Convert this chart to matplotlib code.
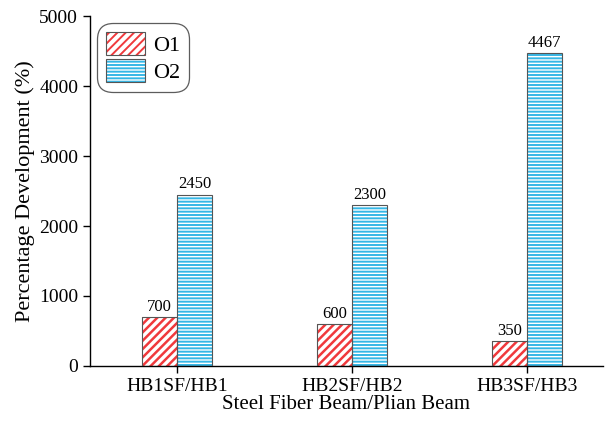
import matplotlib
matplotlib.use("Agg")
import matplotlib.pyplot as plt
from matplotlib.patches import Patch
from matplotlib.legend_handler import HandlerTuple
import numpy as np

categories = ["HB1SF/HB1", "HB2SF/HB2", "HB3SF/HB3"]
o1_values = [700, 600, 350]
o2_values = [2450, 2300, 4467]
series_names = ["O1", "O2"]
y_ticks = [0, 1000, 2000, 3000, 4000, 5000]

plt.rcParams["font.family"] = ["Liberation Serif", "DejaVu Serif"]

fig = plt.figure(figsize=(6.12, 4.25), dpi=100)
ax = fig.add_axes([0.147, 0.139, 0.838, 0.823])

x = np.arange(len(categories))
w = 0.2
red = "#f0393c"
blue = "#35b7e6"
outline = "#555555"
red_hatch = "////"
blue_hatch = "-----"

# hatched fills (per-series hatch line width), then a thin dark outline on top
plt.rcParams["hatch.linewidth"] = 1.8
ax.bar(x - w / 2, o1_values, w, color="white", edgecolor=red, hatch=red_hatch, linewidth=0, zorder=2)
red_fill = Patch(facecolor="white", edgecolor=red, hatch=red_hatch, linewidth=0)
plt.rcParams["hatch.linewidth"] = 1.4
ax.bar(x + w / 2, o2_values, w, color="white", edgecolor=blue, hatch=blue_hatch, linewidth=0, zorder=2)
blue_fill = Patch(facecolor="white", edgecolor=blue, hatch=blue_hatch, linewidth=0)
ax.bar(x - w / 2, o1_values, w, fill=False, edgecolor=outline, linewidth=0.8, zorder=3)
ax.bar(x + w / 2, o2_values, w, fill=False, edgecolor=outline, linewidth=0.8, zorder=3)

for xi, v in zip(x - w / 2, o1_values):
    ax.text(xi, v + 30, f"{v}", ha="center", va="bottom", fontsize=12)
for xi, v in zip(x + w / 2, o2_values):
    ax.text(xi, v + 30, f"{v}", ha="center", va="bottom", fontsize=12)

red_box = Patch(fill=False, edgecolor=outline, linewidth=0.8)
blue_box = Patch(fill=False, edgecolor=outline, linewidth=0.8)
leg = ax.legend([(red_fill, red_box), (blue_fill, blue_box)], series_names,
                handler_map={tuple: HandlerTuple(ndivide=1, pad=0)},
                loc="upper left", bbox_to_anchor=(0, 1),
                fontsize=16, frameon=True, fancybox=True, edgecolor="#333333",
                handlelength=1.75, handleheight=1.2, borderpad=0.4, labelspacing=0.15,
                handletextpad=0.35, borderaxespad=0.32)
leg.get_frame().set_linewidth(0.9)
leg.get_frame().set_boxstyle("round", pad=0, rounding_size=0.7)

ax.set_xlim(-0.497, 2.434)
ax.set_ylim(0, 5000)
ax.set_yticks(y_ticks)
ax.set_xticks(x)
ax.set_xticklabels(categories)
ax.tick_params(axis="both", direction="out", labelsize=14, width=1, length=5)
ax.spines["top"].set_visible(False)
ax.spines["right"].set_visible(False)
for s in ("left", "bottom"):
    ax.spines[s].set_linewidth(1.0)

ax.set_xlabel("Steel Fiber Beam/Plian Beam", fontsize=15, labelpad=0)
ax.set_ylabel("Percentage Development (%)", fontsize=16, labelpad=3)

fig.savefig("out.png", dpi=100)
